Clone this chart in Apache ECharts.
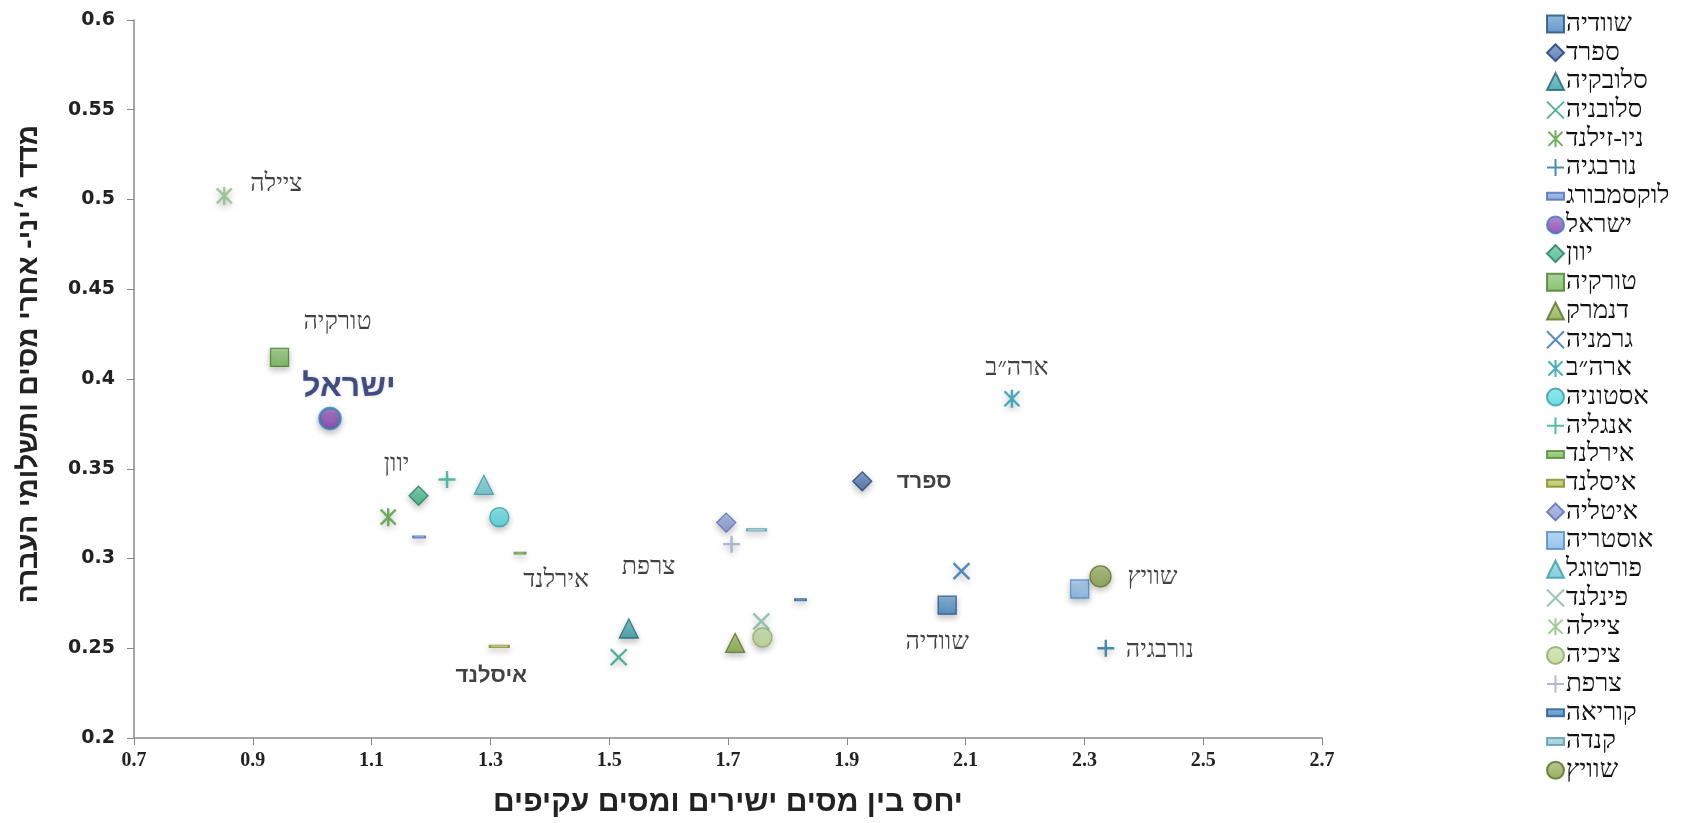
<!DOCTYPE html>
<html><head><meta charset="utf-8">
<script src="https://cdn.jsdelivr.net/npm/echarts@6/dist/echarts.min.js"></script>
<style>html,body{margin:0;padding:0;background:#fff}#c{width:1706px;height:823px}</style>
</head><body><div id="c"></div>
<script>
// Data (legend order)
const countries = ['שוודיה','ספרד','סלובקיה','סלובניה','ניו-זילנד','נורבגיה','לוקסמבורג','ישראל','יוון','טורקיה','דנמרק','גרמניה','ארה״ב','אסטוניה','אנגליה','אירלנד','איסלנד','איטליה','אוסטריה','פורטוגל','פינלנד','ציילה','ציכיה','צרפת','קוריאה','קנדה','שוויץ'];
const taxRatio = [2.069,1.926,1.533,1.516,1.128,2.336,1.180,1.030,1.179,0.945,1.712,2.093,2.178,1.315,1.227,1.350,1.315,1.697,2.292,1.289,1.756,0.852,1.758,1.706,1.822,1.748,2.327];
const gini     = [0.274,0.343,0.261,0.245,0.323,0.250,0.312,0.378,0.335,0.412,0.253,0.293,0.389,0.323,0.344,0.303,0.251,0.320,0.283,0.341,0.265,0.502,0.256,0.308,0.277,0.316,0.290];
const pointLabels = ['שוודיה','ספרד','','','','נורבגיה','','ישראל','יוון','טורקיה','','','ארה״ב','','','אירלנד','איסלנד','','','','','ציילה','','צרפת','','','שוויץ'];
const xTicks = ['0.7','0.9','1.1','1.3','1.5','1.7','1.9','2.1','2.3','2.5','2.7'];
const yTicks = ['0.2','0.25','0.3','0.35','0.4','0.45','0.5','0.55','0.6'];

// Styles
const X = 'path://M0,0 L10,10 M10,0 L0,10';
const AST = 'path://M0,0 L10,10 M10,0 L0,10 M5,-1 L5,11';
const PLUS = 'path://M5,0 L5,10 M0,5 L10,5';
const DASH = 'path://M0,0 L12,0 L12,5 L0,5 Z';
const styles = {
 'שוודיה':{s:'rect',z:18,c:'#3b80bd',b:'#1f4e79'},
 'ספרד':{s:'diamond',z:19,c:'#3a63a8',b:'#1f3b70'},
 'סלובקיה':{s:'triangle',z:19,c:'#2f9aa8',b:'#1b6570'},
 'סלובניה':{s:X,z:16,line:'#2a9c80'},
 'ניו-זילנד':{s:AST,z:18,line:'#4e9a3a'},
 'נורבגיה':{s:PLUS,z:17,line:'#1f6e9c'},
 'לוקסמבורג':{s:DASH,z:[12,5],c:'#6a8fd6',b:'#4a6fb6'},
 'ישראל':{s:'circle',z:21,c:'#7a2fa8',b:'#2e7fb6',bw:2.5},
 'יוון':{s:'diamond',z:19,c:'#33b080',b:'#1f7a55'},
 'טורקיה':{s:'rect',z:18,c:'#6bb34c',b:'#4a7a30'},
 'דנמרק':{s:'triangle',z:19,c:'#82a83c',b:'#56722a'},
 'גרמניה':{s:X,z:16,line:'#2e6eb0'},
 'ארה״ב':{s:AST,z:18,line:'#1e9ab0'},
 'אסטוניה':{s:'circle',z:19,c:'#45d2dc',b:'#2a9aa8'},
 'אנגליה':{s:PLUS,z:17,line:'#2aaa90'},
 'אירלנד':{s:DASH,z:[11,5],c:'#6db34a',b:'#4f8a35'},
 'איסלנד':{s:DASH,z:[19,6],c:'#aabb3c',b:'#7f8a28'},
 'איטליה':{s:'diamond',z:19,c:'#7b8fd0',b:'#566bb0'},
 'אוסטריה':{s:'rect',z:18,c:'#7db4e8',b:'#4f8ac0'},
 'פורטוגל':{s:'triangle',z:19,c:'#62c4d0',b:'#3a98a8'},
 'פינלנד':{s:X,z:16,line:'#7fb8a0'},
 'ציילה':{s:AST,z:18,line:'#8abf80'},
 'ציכיה':{s:'circle',z:19,c:'#b8d48c',b:'#88a860'},
 'צרפת':{s:PLUS,z:17,line:'#9aa6cc'},
 'קוריאה':{s:DASH,z:[11,5],c:'#2e78b8',b:'#1f5a90'},
 'קנדה':{s:DASH,z:[19,6],c:'#82c2ca',b:'#5a9aa8'},
 'שוויץ':{s:'circle',z:21,c:'#7e9c3c',b:'#556b22'}
};
const lblStyle = {
 'ציילה':{o:[52,-11]},
 'טורקיה':{o:[58,-35]},
 'ישראל':{o:[19,-31],big:true},
 'יוון':{o:[-22,-31]},
 'אירלנד':{o:[36,27]},
 'צרפת':{o:[-83,23]},
 'איסלנד':{o:[-8,29],bold:true},
 'ספרד':{o:[62,1],bold:true},
 'ארה״ב':{o:[5,-30]},
 'שוודיה':{o:[-10,37]},
 'שוויץ':{o:[52,1]},
 'נורבגיה':{o:[54,2]}
};

function lighten(hex, f){
  const n=parseInt(hex.slice(1),16); let r=n>>16,g=(n>>8)&255,b=n&255;
  r=Math.round(r+(255-r)*f); g=Math.round(g+(255-g)*f); b=Math.round(b+(255-b)*f);
  return 'rgb('+r+','+g+','+b+')';
}

const series = countries.map((name,i)=>{
  const st = styles[name];
  const isLine = !!st.line;
  const ls = lblStyle[name];
  const item = isLine ? {color:st.line, borderColor:st.line, borderWidth:2.4} :
     {color:new echarts.graphic.LinearGradient(0,0,0,1,[{offset:0,color:lighten(st.c,0.3)},{offset:1,color:st.c}]),
      borderColor:st.b, borderWidth:st.bw||1.3};
  item.shadowBlur = 6; item.shadowColor='rgba(0,0,0,0.3)'; item.shadowOffsetY = 3;
  const s = {
    name, type:'scatter', symbol:st.s, symbolSize:st.z, symbolKeepAspect:true,
    itemStyle:item,
    data:[[taxRatio[i], gini[i]]],
    label:{show:false}
  };
  if (pointLabels[i]) {
    s.label = {show:true, position:'inside', offset:ls.o, formatter:()=>pointLabels[i],
      color: ls.big ? '#1c2a6b' : '#111',
      fontFamily: (ls.big||ls.bold) ? 'Liberation Sans' : 'Liberation Serif',
      fontWeight: (ls.big||ls.bold) ? 'bold' : 'normal',
      fontSize: ls.big ? 32 : (ls.bold ? 22 : 25),
      textShadowColor: ls.big ? 'rgba(0,0,0,0.25)' : 'transparent', textShadowBlur: ls.big?3:0};
  }
  return s;
});

const chart = echarts.init(document.getElementById('c'));
chart.setOption({
  backgroundColor:'#fff',
  animation:false,
  grid:{left:134, right:384, top:20, bottom:82},
  xAxis:{type:'value', min:0.7, max:2.7, interval:0.2,
    name:'יחס בין מסים ישירים ומסים עקיפים', nameLocation:'middle', nameGap:50,
    nameTextStyle:{fontFamily:'Liberation Sans', fontWeight:'bold', fontSize:30, color:'#222'},
    axisLine:{lineStyle:{color:'#8a8a8a', width:1.5}},
    axisTick:{show:true, length:7, lineStyle:{color:'#8a8a8a'}},
    splitLine:{show:false},
    axisLabel:{margin:13, fontFamily:'Liberation Serif', fontWeight:'bold', fontSize:20, color:'#222',
      formatter:(v)=>{const k=Math.round((v-0.7)/0.2); return xTicks[k]||'';}}
  },
  yAxis:{type:'value', min:0.2, max:0.6, interval:0.05,
    name:'מדד ג׳יני- אחרי מסים ותשלומי העברה', nameLocation:'middle', nameGap:91, nameRotate:90,
    nameTextStyle:{fontFamily:'Liberation Sans', fontWeight:'bold', fontSize:28, color:'#222', padding:[0,0,0,30]},
    axisLine:{show:true, lineStyle:{color:'#8a8a8a', width:1.5}},
    axisTick:{show:true, length:7, lineStyle:{color:'#8a8a8a'}},
    splitLine:{show:false},
    axisLabel:{margin:19, fontFamily:'DejaVu Sans', fontWeight:'bold', fontSize:19, color:'#222',
      formatter:(v)=>{const k=Math.round((v-0.2)/0.05); return yTicks[k]||'';}}
  },
  legend:{orient:'vertical', left:1541, top:6, itemGap:2.7, itemWidth:17, itemHeight:17,
    data:countries,
    textStyle:{fontFamily:'Liberation Serif', fontSize:26, lineHeight:26, color:'#111', padding:[0,0,0,-3]}
  },
  series
});
</script></body></html>
